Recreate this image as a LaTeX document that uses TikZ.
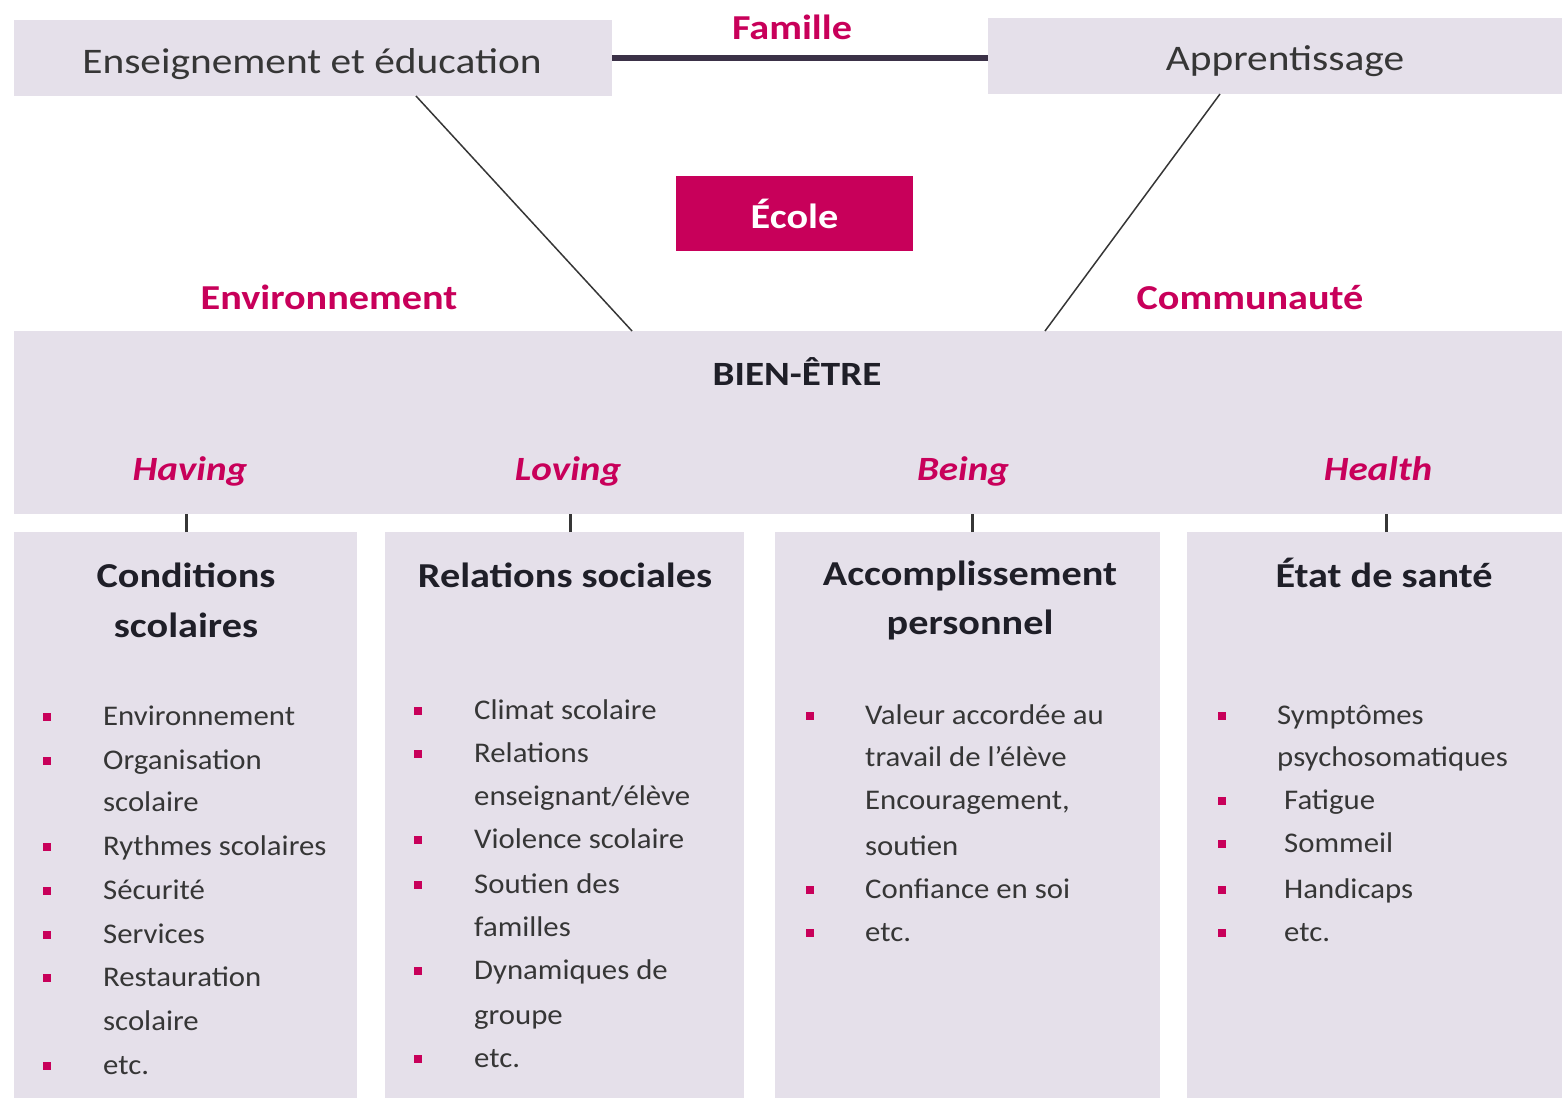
\documentclass[tikz,border=0pt]{standalone}
\usepackage{fontspec}
\setmainfont{Carlito}[FakeStretch=1.08]
\newfontfamily\widefont{Carlito}[FakeStretch=1.15]
\usetikzlibrary{calc}
\definecolor{boxfill}{HTML}{E5E0EA}
\definecolor{mag}{HTML}{C8005A}
\definecolor{txt}{HTML}{363636}
\definecolor{dark}{HTML}{1F1F28}
\definecolor{famline}{HTML}{3B3147}
\begin{document}
\begin{tikzpicture}[x=1pt,y=-1pt,
  panel/.style={fill=boxfill, draw=none, inner sep=0pt, outer sep=0pt},
  toplabel/.style={font=\widefont\fontsize{36}{40}\selectfont, text=txt, anchor=base, inner sep=0pt},
  maglabel/.style={font=\widefont\bfseries\fontsize{35}{40}\selectfont, text=mag, anchor=base, inner sep=0pt},
  subcat/.style={font=\widefont\bfseries\itshape\fontsize{34}{40}\selectfont, text=mag, anchor=base, inner sep=0pt},
  coltitle/.style={font=\widefont\bfseries\fontsize{35}{40}\selectfont, text=dark, anchor=base, inner sep=0pt},
  item/.style={font=\fontsize{28.5}{34}\selectfont, text=txt, anchor=base west, inner sep=0pt},
  bul/.style={fill=mag, minimum size=8pt, inner sep=0pt, draw=none},
  link/.style={draw=txt, line width=1.5pt},
  tick/.style={draw=txt, line width=3pt},
  famlink/.style={draw=famline, line width=6pt}
]
\useasboundingbox (0,0) rectangle (1562,1098);

% panels
\node[panel, minimum width=598pt, minimum height=76pt] (ens) at (313,58) {};
\node[panel, minimum width=574pt, minimum height=76pt] (app) at (1275,56) {};
\node[fill=mag, inner sep=0pt, minimum width=237pt, minimum height=75pt,
      font=\widefont\bfseries\fontsize{35}{40}\selectfont, text=white] (ecole) at (794.5,213.5) {École};
\node[panel, minimum width=1548pt, minimum height=183pt] (bien) at (788,422.5) {};
\node[panel, minimum width=343pt, minimum height=566pt] (col1) at (185.5,815) {};
\node[panel, minimum width=359pt, minimum height=566pt] (col2) at (564.5,815) {};
\node[panel, minimum width=385pt, minimum height=566pt] (col3) at (967.5,815) {};
\node[panel, minimum width=375pt, minimum height=566pt] (col4) at (1374.5,815) {};

% panel texts
\node[toplabel] (enst) at (312,73) {Enseignement et éducation};
\node[toplabel] (appt) at (1285,70) {Apprentissage};

% connectors
\draw[famlink] (ens.east) -- (ens.east -| app.west);
\draw[link] ([xshift=103pt]ens.south) -- ([xshift=-156pt]bien.north);
\draw[link] ([xshift=-55pt]app.south) -- ([xshift=257pt]bien.north);
\draw[tick] ([xshift=0.5pt]col1.north) -- ([xshift=0.5pt]col1.north |- bien.south);
\draw[tick] ([xshift=5.5pt]col2.north) -- ([xshift=5.5pt]col2.north |- bien.south);
\draw[tick] ([xshift=4.5pt]col3.north) -- ([xshift=4.5pt]col3.north |- bien.south);
\draw[tick] ([xshift=11.5pt]col4.north) -- ([xshift=11.5pt]col4.north |- bien.south);

% labels
\node[maglabel] (fam) at (792,39) {Famille};
\node[maglabel] (env) at (329,309) {Environnement};
\node[maglabel] (com) at (1250,309) {Communauté};
\node[coltitle, font=\widefont\bfseries\fontsize{34}{40}\selectfont] (be) at (797,385) {BIEN-ÊTRE};
\node[subcat] (hav) at (190,480) {Having};
\node[subcat] (lov) at (568,480) {Loving};
\node[subcat] (bei) at (963,480) {Being};
\node[subcat] (hea) at (1378,480) {Health};

% column titles
\node[coltitle] (t1a) at (186,587) {Conditions};
\node[coltitle] (t1b) at (186,637) {scolaires};
\node[coltitle] (t2a) at (565,587) {Relations sociales};
\node[coltitle] (t3a) at (970,585) {Accomplissement};
\node[coltitle] (t3b) at (970,634) {personnel};
\node[coltitle] (t4a) at (1384,587) {État de santé};

% column 1
\foreach[count=\i] \y/\b/\t in {716/1/Environnement, 760/1/Organisation, 802/0/scolaire,
   846/1/Rythmes scolaires, 890/1/Sécurité, 934/1/Services, 977/1/Restauration,
   1021/0/scolaire, 1065/1/etc.}{
  \node[item] (a\i) at (103,\y+9) {\t};
  \ifnum\b=1 \node[bul] (ab\i) at (47,\y+1) {}; \fi
}
% column 2
\foreach[count=\i] \y/\b/\t in {710/1/Climat scolaire, 753/1/Relations, 796/0/enseignant\slash élève,
   839/1/Violence scolaire, 884/1/Soutien des, 927/0/familles, 970/1/Dynamiques de,
   1015/0/groupe, 1058/1/etc.}{
  \node[item] (b\i) at (474,\y+9) {\t};
  \ifnum\b=1 \node[bul] (bb\i) at (418,\y+1) {}; \fi
}
% column 3
\foreach[count=\i] \y/\b/\t in {715/1/Valeur accordée au, 757/0/travail de l’élève,
   800/0/{Encouragement,}, 846/0/soutien, 889/1/Confiance en soi, 932/1/etc.}{
  \node[item] (c\i) at (865,\y+9) {\t};
  \ifnum\b=1 \node[bul] (cb\i) at (810,\y+1) {}; \fi
}
% column 4
\foreach[count=\i] \y/\b/\x/\t in {715/1/1277/Symptômes, 757/0/1277/psychosomatiques,
   800/1/1284/Fatigue, 843/1/1284/Sommeil, 889/1/1284/Handicaps, 932/1/1284/etc.}{
  \node[item] (d\i) at (\x,\y+9) {\t};
  \ifnum\b=1 \node[bul] (db\i) at (1222,\y+1) {}; \fi
}
\end{tikzpicture}
\end{document}
